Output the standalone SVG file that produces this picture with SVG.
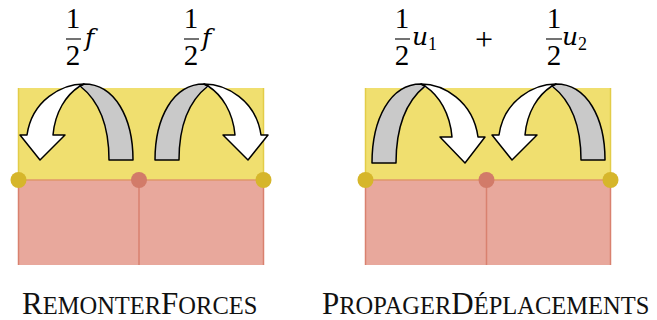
<svg xmlns="http://www.w3.org/2000/svg" width="657" height="320" viewBox="0 0 657 320">
<style>
.yel{fill:#F0DF6F}
.pink{fill:#E8A89C}
.ysd{stroke:#E3CC48;stroke-width:1.5}
.psd{stroke:#D9816F;stroke-width:1.5}
.mid{stroke:#E0966A;stroke-width:1.5}
.dy{fill:#D6B62B}
.dp{fill:#D27B69}
.aw{fill:#FFFFFF;stroke:#000;stroke-width:1.5;stroke-linejoin:round}
.ag{fill:#C9C9C9;stroke:#000;stroke-width:1.5;stroke-linejoin:round}
.m{font-family:"Liberation Serif","Times New Roman",serif;font-size:29px;fill:#000}
.mi{font-family:"DejaVu Serif","Liberation Serif",serif;font-size:25px;font-style:italic;fill:#000}
.sub{font-family:"Liberation Serif","Times New Roman",serif;font-size:18px;fill:#000}
.bar{stroke:#000;stroke-width:1.1}
.lab{font-family:"Liberation Serif","Times New Roman",serif;font-size:31px;fill:#111}
.sc{font-size:24.5px}
</style>
<defs>
<g id="curl">
<path class="ag" d="M84,84 C115,84 133,118 133,160 L109,160 C109,125 98,100 80,86 Z"/>
<path class="aw" d="M80,86 C66,95 55,112 53,135 L65,135 L40,160 L20,135 L27,135 C32,100 62,84 84,84 Z"/>
</g>
</defs>

<g id="panel-left">
<rect class="yel" x="18" y="88" width="246" height="92"/>
<rect class="pink" x="18" y="180" width="246" height="85"/>
<line class="ysd" x1="18.5" y1="88" x2="18.5" y2="180"/>
<line class="ysd" x1="263.5" y1="88" x2="263.5" y2="180"/>
<line class="psd" x1="18.5" y1="180" x2="18.5" y2="265"/>
<line class="psd" x1="263.5" y1="180" x2="263.5" y2="265"/>
<line class="psd" x1="139" y1="180" x2="139" y2="265"/>
<line class="mid" x1="18" y1="180" x2="264" y2="180"/>
<circle class="dy" cx="18.5" cy="180" r="8"/>
<circle class="dp" cx="139" cy="180" r="8"/>
<circle class="dy" cx="263.5" cy="180" r="8"/>
</g>

<g id="panel-right">
<rect class="yel" x="365" y="88" width="246" height="92"/>
<rect class="pink" x="365" y="180" width="246" height="85"/>
<line class="ysd" x1="365.5" y1="88" x2="365.5" y2="180"/>
<line class="ysd" x1="610.5" y1="88" x2="610.5" y2="180"/>
<line class="psd" x1="365.5" y1="180" x2="365.5" y2="265"/>
<line class="psd" x1="610.5" y1="180" x2="610.5" y2="265"/>
<line class="psd" x1="486.5" y1="180" x2="486.5" y2="265"/>
<line class="mid" x1="365" y1="180" x2="611" y2="180"/>
<circle class="dy" cx="365.5" cy="180" r="8"/>
<circle class="dp" cx="486.5" cy="180" r="8"/>
<circle class="dy" cx="610.5" cy="180" r="8"/>
</g>

<g id="connectors">
<use href="#curl"/>
<use href="#curl" transform="matrix(-1,0,0,1,288,0)"/>
<use href="#curl" transform="matrix(-1,0,0,1.04,505,-3.4)"/>
<use href="#curl" transform="translate(472,0)"/>
</g>

<g id="label-f1">
<text class="m" x="73" y="28" text-anchor="middle">1</text>
<line class="bar" x1="66" y1="39" x2="81" y2="39"/>
<text class="m" x="73" y="65" text-anchor="middle">2</text>
<text class="mi" x="85" y="46">f</text>
</g>
<g id="label-f2">
<text class="m" x="191" y="28" text-anchor="middle">1</text>
<line class="bar" x1="184" y1="39" x2="199" y2="39"/>
<text class="m" x="191" y="65" text-anchor="middle">2</text>
<text class="mi" x="202" y="46">f</text>
</g>
<g id="label-u1">
<text class="m" x="402" y="28" text-anchor="middle">1</text>
<line class="bar" x1="395" y1="39" x2="410" y2="39"/>
<text class="m" x="402" y="65" text-anchor="middle">2</text>
<text class="mi" x="412" y="45">u</text>
<text class="sub" x="428" y="50">1</text>
</g>
<g id="label-plus">
<text class="m" x="484" y="50" text-anchor="middle" style="font-size:32px">+</text>
</g>
<g id="label-u2">
<text class="m" x="554" y="28" text-anchor="middle">1</text>
<line class="bar" x1="546" y1="39" x2="562" y2="39"/>
<text class="m" x="554" y="65" text-anchor="middle">2</text>
<text class="mi" x="562" y="45">u</text>
<text class="sub" x="578" y="50">2</text>
</g>

<g id="caption-left">
<text class="lab" x="22" y="314">R<tspan class="sc">EMONTER</tspan>F<tspan class="sc">ORCES</tspan></text>
</g>
<g id="caption-right">
<text class="lab" x="322" y="314">P<tspan class="sc">ROPAGER</tspan>D<tspan class="sc">ÉPLACEMENTS</tspan></text>
</g>
</svg>
